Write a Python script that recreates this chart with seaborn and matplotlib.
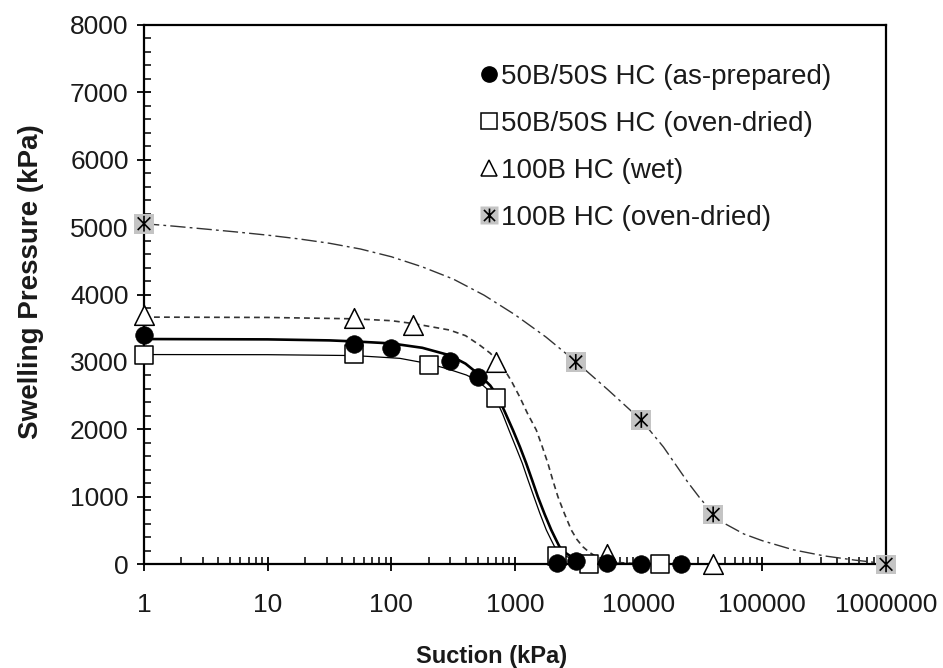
import matplotlib
matplotlib.use("Agg")
import matplotlib.pyplot as plt
from matplotlib.path import Path
from matplotlib.lines import Line2D
from matplotlib.legend_handler import HandlerTuple
from matplotlib.ticker import FixedLocator, FuncFormatter, LogLocator, MultipleLocator, NullFormatter
import seaborn as sns

# ---- measured swelling pressures ----
ap_suction = [1, 50, 100, 300, 500, 2200, 3100, 5500, 10500, 22000]
ap_pressure = [3400, 3260, 3210, 3020, 2780, 20, 50, 15, 10, 10]

od_suction = [1, 50, 200, 700, 2200, 4000, 15000]
od_pressure = [3110, 3115, 2955, 2460, 125, 5, 5]

wet_suction = [1, 50, 150, 700, 5500, 40000]
wet_pressure = [3690, 3650, 3550, 3000, 160, 0]

b100_suction = [1, 3100, 10500, 40000, 1000000]
b100_pressure = [5050, 3000, 2140, 740, 0]

# ---- fitted curves ----
fit_ap_suction = [1, 10, 31.6, 50, 100, 178, 295, 398, 518, 631, 728, 832, 962, 1096,
                  1230, 1380, 1531, 1738, 1963, 2138, 2291, 2512, 2851, 3311, 3981,
                  5012, 7079, 10000, 1000000]
fit_ap_pressure = [3340, 3335, 3320, 3305, 3275, 3210, 3100, 2975, 2805, 2650, 2485, 2250,
                   1990, 1740, 1500, 1240, 1000, 740, 510, 370, 260, 180, 113, 60, 30,
                   15, 5, 0, 0]

fit_od_suction = [1, 10, 50, 117, 200, 282, 405, 501, 586, 706, 794, 893, 1012, 1146,
                  1274, 1422, 1585, 1791, 1950, 2089, 2344, 2630, 3548, 5012, 10000, 1000000]
fit_od_pressure = [3110, 3108, 3095, 3054, 2975, 2900, 2806, 2720, 2609, 2436, 2230, 1991,
                   1745, 1497, 1250, 1002, 760, 509, 370, 261, 170, 113, 35, 10, 0, 0]

fit_wet_suction = [1, 10, 50, 100, 150, 295, 398, 518, 631, 794, 933, 1089, 1259, 1486,
                   1660, 1845, 2018, 2223, 2512, 2851, 3162, 3532, 3981, 4539, 5623,
                   7079, 10000, 19953, 1000000]
fit_wet_pressure = [3665, 3660, 3640, 3612, 3570, 3474, 3390, 3250, 3130, 2930, 2720, 2485,
                    2240, 1991, 1745, 1497, 1250, 1002, 750, 509, 370, 261, 180, 113, 55,
                    25, 8, 0, 0]

fit_b100_suction = [1, 1.78, 3.16, 5.62, 10, 17.8, 31.6, 56.2, 100, 178, 316, 562, 1000,
                    1778, 3126, 5623, 10593, 15849, 25119, 31623, 39811, 50119, 70795,
                    100000, 177828, 316228, 562341, 1000000]
fit_b100_pressure = [5050, 5012, 4970, 4927, 4880, 4825, 4760, 4675, 4560, 4410, 4230,
                     3990, 3700, 3370, 3000, 2590, 2130, 1740, 1210, 970, 760, 600, 450,
                     350, 215, 125, 62, 10]

series_labels = ["50B/50S HC (as-prepared)", "50B/50S HC (oven-dried)",
                 "100B HC (wet)", "100B HC (oven-dried)"]
x_ticks = [1, 10, 100, 1000, 10000, 100000, 1000000]
x_tick_labels = ["1", "10", "100", "1000", "10000", "100000", "1000000"]

sns.set_theme(style="white")
plt.rcParams["font.family"] = ["Liberation Sans", "DejaVu Sans"]
plt.rcParams["lines.scale_dashes"] = True

fig = plt.figure(figsize=(9.43, 6.68), dpi=100)
ax = fig.add_axes([0.1527, 0.1552, 0.7869, 0.8078])
ax.set_xscale("log")

# curves
sns.lineplot(x=fit_ap_suction, y=fit_ap_pressure, ax=ax, color="black", linewidth=1.9,
             sort=False, estimator=None, legend=False, zorder=2)
sns.lineplot(x=fit_od_suction, y=fit_od_pressure, ax=ax, color="black", linewidth=0.9,
             sort=False, estimator=None, legend=False, zorder=2)
sns.lineplot(x=fit_wet_suction, y=fit_wet_pressure, ax=ax, color="#333333", linewidth=1.2,
             linestyle=(0, (3.5, 2.5)), sort=False, estimator=None, legend=False, zorder=2)
sns.lineplot(x=fit_b100_suction, y=fit_b100_pressure, ax=ax, color="#333333", linewidth=1.0,
             linestyle=(0, (11, 3, 2, 3)), sort=False, estimator=None, legend=False, zorder=2)

# markers
star_path = Path([(0, -1), (0, 1), (-0.8, -0.8), (0.8, 0.8), (-0.8, 0.8), (0.8, -0.8)],
                 [Path.MOVETO, Path.LINETO] * 3)

sns.scatterplot(x=od_suction, y=od_pressure, ax=ax, marker="s", s=150, color="white",
                edgecolor="black", linewidth=1.1, clip_on=False, zorder=4, legend=False)
sns.scatterplot(x=ap_suction, y=ap_pressure, ax=ax, marker="o", s=160, color="black",
                edgecolor="black", linewidth=0.5, clip_on=False, zorder=5, legend=False)
sns.scatterplot(x=wet_suction, y=wet_pressure, ax=ax, marker="^", s=200, color="white",
                edgecolor="black", linewidth=1.1, clip_on=False, zorder=4, legend=False)
sns.scatterplot(x=b100_suction, y=b100_pressure, ax=ax, marker="s", s=200, color="#c4c4c4",
                edgecolor="none", linewidth=0, clip_on=False, zorder=4, legend=False)
sns.scatterplot(x=b100_suction, y=b100_pressure, ax=ax, marker=star_path, s=130, color="none",
                edgecolor="black", linewidth=1.2, clip_on=False, zorder=5, legend=False)

# axes
ax.set_xlim(1, 1000000)
ax.set_ylim(0, 8000)
ax.xaxis.set_major_locator(FixedLocator(x_ticks))
ax.xaxis.set_major_formatter(FuncFormatter(lambda v, p: x_tick_labels[x_ticks.index(round(v))]
                                           if round(v) in x_ticks else ""))
ax.xaxis.set_minor_locator(LogLocator(base=10, subs=range(2, 10), numticks=20))
ax.xaxis.set_minor_formatter(NullFormatter())
ax.yaxis.set_major_locator(MultipleLocator(1000))
ax.yaxis.set_minor_locator(MultipleLocator(200))

for side in ["left", "bottom", "right", "top"]:
    ax.spines[side].set_visible(True)
    ax.spines[side].set_color("black")
    ax.spines[side].set_linewidth(1.6)

ax.tick_params(axis="both", which="major", direction="inout", length=10, width=1.3,
               color="black", labelsize=19, labelcolor="#1a1a1a")
ax.tick_params(axis="both", which="minor", direction="in", length=5, width=1.1, color="black")
ax.tick_params(axis="x", which="major", pad=16)
ax.tick_params(axis="y", which="major", pad=6)
ax.tick_params(bottom=True, left=True, top=False, right=False)
ax.tick_params(which="minor", bottom=True, left=True, top=False, right=False)

ax.set_xlabel("Suction (kPa)", fontsize=17, fontweight="bold", color="#1a1a1a")
ax.set_ylabel("Swelling Pressure (kPa)", fontsize=20, fontweight="bold", color="#1a1a1a")
ax.xaxis.set_label_coords(0.4686, -0.150)
ax.yaxis.set_label_coords(-0.135, 0.523)

# legend (markers only)
h_ap = Line2D([], [], linestyle="none", marker="o", markersize=11, markerfacecolor="black",
              markeredgecolor="black")
h_od = Line2D([], [], linestyle="none", marker="s", markersize=11, markerfacecolor="white",
              markeredgecolor="black", markeredgewidth=1.1)
h_wet = Line2D([], [], linestyle="none", marker="^", markersize=12, markerfacecolor="white",
               markeredgecolor="black", markeredgewidth=1.1)
h_b_bg = Line2D([], [], linestyle="none", marker="s", markersize=13, markerfacecolor="#c4c4c4",
                markeredgecolor="none")
h_b_st = Line2D([], [], linestyle="none", marker=star_path, markersize=10,
                markeredgecolor="black", markerfacecolor="none", markeredgewidth=1.2)
leg = ax.legend([h_ap, h_od, h_wet, (h_b_bg, h_b_st)], series_labels,
                handler_map={tuple: HandlerTuple(ndivide=1)},
                loc="upper left", bbox_to_anchor=(0.4537, 0.927), frameon=False,
                fontsize=20, handlelength=0.6, handletextpad=0.15, labelspacing=0.75,
                borderpad=0, borderaxespad=0)
for t in leg.get_texts():
    t.set_color("#1a1a1a")

fig.savefig("out.png", dpi=100, facecolor="white")
